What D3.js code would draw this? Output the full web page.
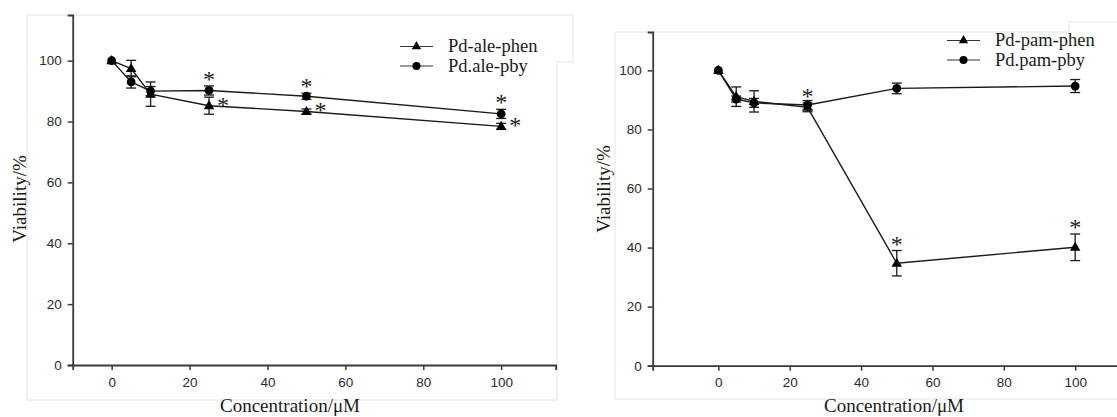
<!DOCTYPE html>
<html>
<head>
<meta charset="utf-8">
<script src="https://cdn.jsdelivr.net/npm/d3@7"></script>
<style>
  html, body { margin: 0; padding: 0; background: #fff; }
  svg { display: block; }
</style>
</head>
<body>
<svg id="chart" width="1117" height="417"></svg>
<script>
// Concentrations tested (µM)
const concentrations = [0, 5, 10, 25, 50, 100];
const xTicks = [0, 20, 40, 60, 80, 100];
const yTicks = [0, 20, 40, 60, 80, 100];

// Cell viability (%) and error (±) for the alendronate complexes
const alePhen    = [100, 97.4, 89.0, 85.2, 83.3, 78.4];
const alePhenErr = [0.6, 2.7, 4.0, 2.8, 0.8, 1.0];
const alePby     = [100, 93.0, 90.0, 90.2, 88.3, 82.5];
const alePbyErr  = [0.6, 2.0, 1.5, 1.5, 1.0, 1.5];

// Cell viability (%) and error (±) for the pamidronate complexes
const pamPhen    = [100, 91.1, 89.5, 87.5, 34.7, 40.1];
const pamPhenErr = [0.6, 3.3, 3.6, 1.5, 4.3, 4.5];
const pamPby     = [100, 90.3, 89.0, 88.3, 93.9, 94.7];
const pamPbyErr  = [0.6, 1.0, 1.5, 1.5, 1.8, 2.2];

// Significance marks: concentrations flagged with "*"
const aleStarsAbove = [25, 50, 100];   // over Pd.ale-pby
const aleStarsRight = [25, 50, 100];   // beside Pd-ale-phen
const pamStarsAbove = [25, 50, 100];   // over Pd-pam-phen

const aleNames = ["Pd-ale-phen", "Pd.ale-pby"];
const pamNames = ["Pd-pam-phen", "Pd.pam-pby"];

const svg = d3.select("#chart");
const INK = "#1a1a1a";
const AXIS = "#3a3a3a";
const FRAME = "#e4e4e4";
const SERIF = "'Liberation Serif', 'Times New Roman', serif";
const SANS = "'Liberation Sans', Arial, sans-serif";

// faint outlines around each panel
svg.append("path")
  .attr("d", "M27,15 H573 V62 H557 V400 H27 Z")
  .attr("fill", "none").attr("stroke", FRAME).attr("stroke-width", 1);
svg.append("path")
  .attr("d", "M1117,22 H1069 V32 H615 V399 H1117")
  .attr("fill", "none").attr("stroke", FRAME).attr("stroke-width", 1);

function drawPanel(cfg) {
  const x = d3.scaleLinear().domain(cfg.xDomain).range(cfg.xRange);
  const y = d3.scaleLinear().domain(cfg.yDomain).range(cfg.yRange);
  const g = svg.append("g");

  // axes
  const xAxis = g.append("g")
    .attr("transform", `translate(0,${cfg.yRange[0]})`)
    .call(d3.axisBottom(x).tickValues(xTicks).tickSize(5).tickPadding(7).tickFormat(d3.format("d")));
  const yAxis = g.append("g")
    .attr("transform", `translate(${cfg.xRange[0]},0)`)
    .call(d3.axisLeft(y).tickValues(yTicks).tickSize(5).tickPadding(6).tickFormat(d3.format("d")));
  [xAxis, yAxis].forEach(a => {
    a.select(".domain").attr("stroke", AXIS).attr("stroke-width", 1.8);
    a.selectAll(".tick line").attr("stroke", AXIS).attr("stroke-width", 1.5);
    a.selectAll(".tick text").attr("fill", "#2a2a2a")
      .style("font-family", SANS).style("font-size", "13.5px");
  });

  // axis titles
  g.append("text")
    .attr("x", cfg.xLabelX).attr("y", 412)
    .attr("text-anchor", "middle")
    .style("font-family", SERIF).style("font-size", "19px").attr("fill", INK)
    .text("Concentration/\u03bcM");
  g.append("text")
    .attr("transform", `translate(${cfg.yLabelX},${cfg.yLabelY}) rotate(-90)`)
    .attr("text-anchor", "middle")
    .style("font-family", SERIF).style("font-size", "19px").attr("fill", INK)
    .text("Viability/%");

  const line = d3.line().x(d => x(d.c)).y(d => y(d.v));
  const tri = d3.symbol().type(d3.symbolTriangle).size(48);
  const triSmall = d3.symbol().type(d3.symbolTriangle).size(38);

  cfg.series.forEach(s => {
    const pts = concentrations.map((c, i) => ({ c, v: s.values[i], e: s.errors[i] }));
    g.append("path").datum(pts).attr("d", line)
      .attr("fill", "none").attr("stroke", INK).attr("stroke-width", 1.4);

    // error bars with caps
    const eb = g.append("g").selectAll("g").data(pts.filter(p => p.c > 0)).join("g");
    eb.append("line")
      .attr("x1", d => x(d.c)).attr("x2", d => x(d.c))
      .attr("y1", d => y(d.v + d.e)).attr("y2", d => y(d.v - d.e))
      .attr("stroke", INK).attr("stroke-width", 1.3);
    ["+", "-"].forEach(sign => {
      eb.append("line")
        .attr("x1", d => x(d.c) - 5).attr("x2", d => x(d.c) + 5)
        .attr("y1", d => y(sign === "+" ? d.v + d.e : d.v - d.e))
        .attr("y2", d => y(sign === "+" ? d.v + d.e : d.v - d.e))
        .attr("stroke", INK).attr("stroke-width", 1.3);
    });

    // markers
    if (s.shape === "triangle") {
      g.append("g").selectAll("path").data(pts).join("path")
        .attr("d", tri).attr("transform", d => `translate(${x(d.c)},${y(d.v) + 0.5})`)
        .attr("fill", "#000");
    } else {
      g.append("g").selectAll("circle").data(pts).join("circle")
        .attr("cx", d => x(d.c)).attr("cy", d => y(d.v)).attr("r", 4.4)
        .attr("fill", "#000");
    }

    // significance asterisks
    const star = (sel) => sel.style("font-family", SERIF).style("font-size", "24px")
      .attr("fill", INK).attr("text-anchor", "middle").text("*");
    const idx = c => concentrations.indexOf(c);
    (s.starsAbove || []).forEach(c => {
      const i = idx(c);
      g.append("text")
        .attr("x", x(c)).attr("y", y(s.values[i] + s.errors[i]) + 1)
        .call(star);
    });
    (s.starsRight || []).forEach(c => {
      const i = idx(c);
      g.append("text")
        .attr("x", x(c) + 14).attr("y", y(s.values[i]) + 7)
        .call(star);
    });
  });

  // legend
  const lg = g.append("g");
  cfg.series.forEach((s, i) => {
    const ly = cfg.legend.y0 + i * cfg.legend.dy;
    lg.append("line")
      .attr("x1", cfg.legend.x0).attr("x2", cfg.legend.x0 + 33)
      .attr("y1", ly).attr("y2", ly)
      .attr("stroke", "#333").attr("stroke-width", 1.1);
    if (s.shape === "triangle") {
      lg.append("path").attr("d", triSmall)
        .attr("transform", `translate(${cfg.legend.x0 + 16.5},${ly})`).attr("fill", "#000");
    } else {
      lg.append("circle").attr("cx", cfg.legend.x0 + 16.5).attr("cy", ly).attr("r", 4).attr("fill", "#000");
    }
    lg.append("text")
      .attr("x", cfg.legend.x0 + 48).attr("y", ly + 5.5)
      .style("font-family", SERIF).style("font-size", "18.5px").attr("fill", INK)
      .text(s.name);
  });
}

drawPanel({
  xDomain: [-10, 114], xRange: [72.7, 555.7],
  yDomain: [0, 115], yRange: [365, 15],
  xLabelX: 290, yLabelX: 26, yLabelY: 199,
  legend: { x0: 400, y0: 46.5, dy: 19.5 },
  series: [
    { name: aleNames[0], shape: "triangle", values: alePhen, errors: alePhenErr, starsRight: aleStarsRight },
    { name: aleNames[1], shape: "circle", values: alePby, errors: alePbyErr, starsAbove: aleStarsAbove }
  ]
});

drawPanel({
  xDomain: [-18.4, 112], xRange: [652.7, 1118],
  yDomain: [0, 113], yRange: [365.7, 32],
  xLabelX: 894, yLabelX: 610, yLabelY: 189,
  legend: { x0: 947, y0: 40.5, dy: 19.5 },
  series: [
    { name: pamNames[0], shape: "triangle", values: pamPhen, errors: pamPhenErr, starsAbove: pamStarsAbove },
    { name: pamNames[1], shape: "circle", values: pamPby, errors: pamPbyErr }
  ]
});
</script>
</body>
</html>
